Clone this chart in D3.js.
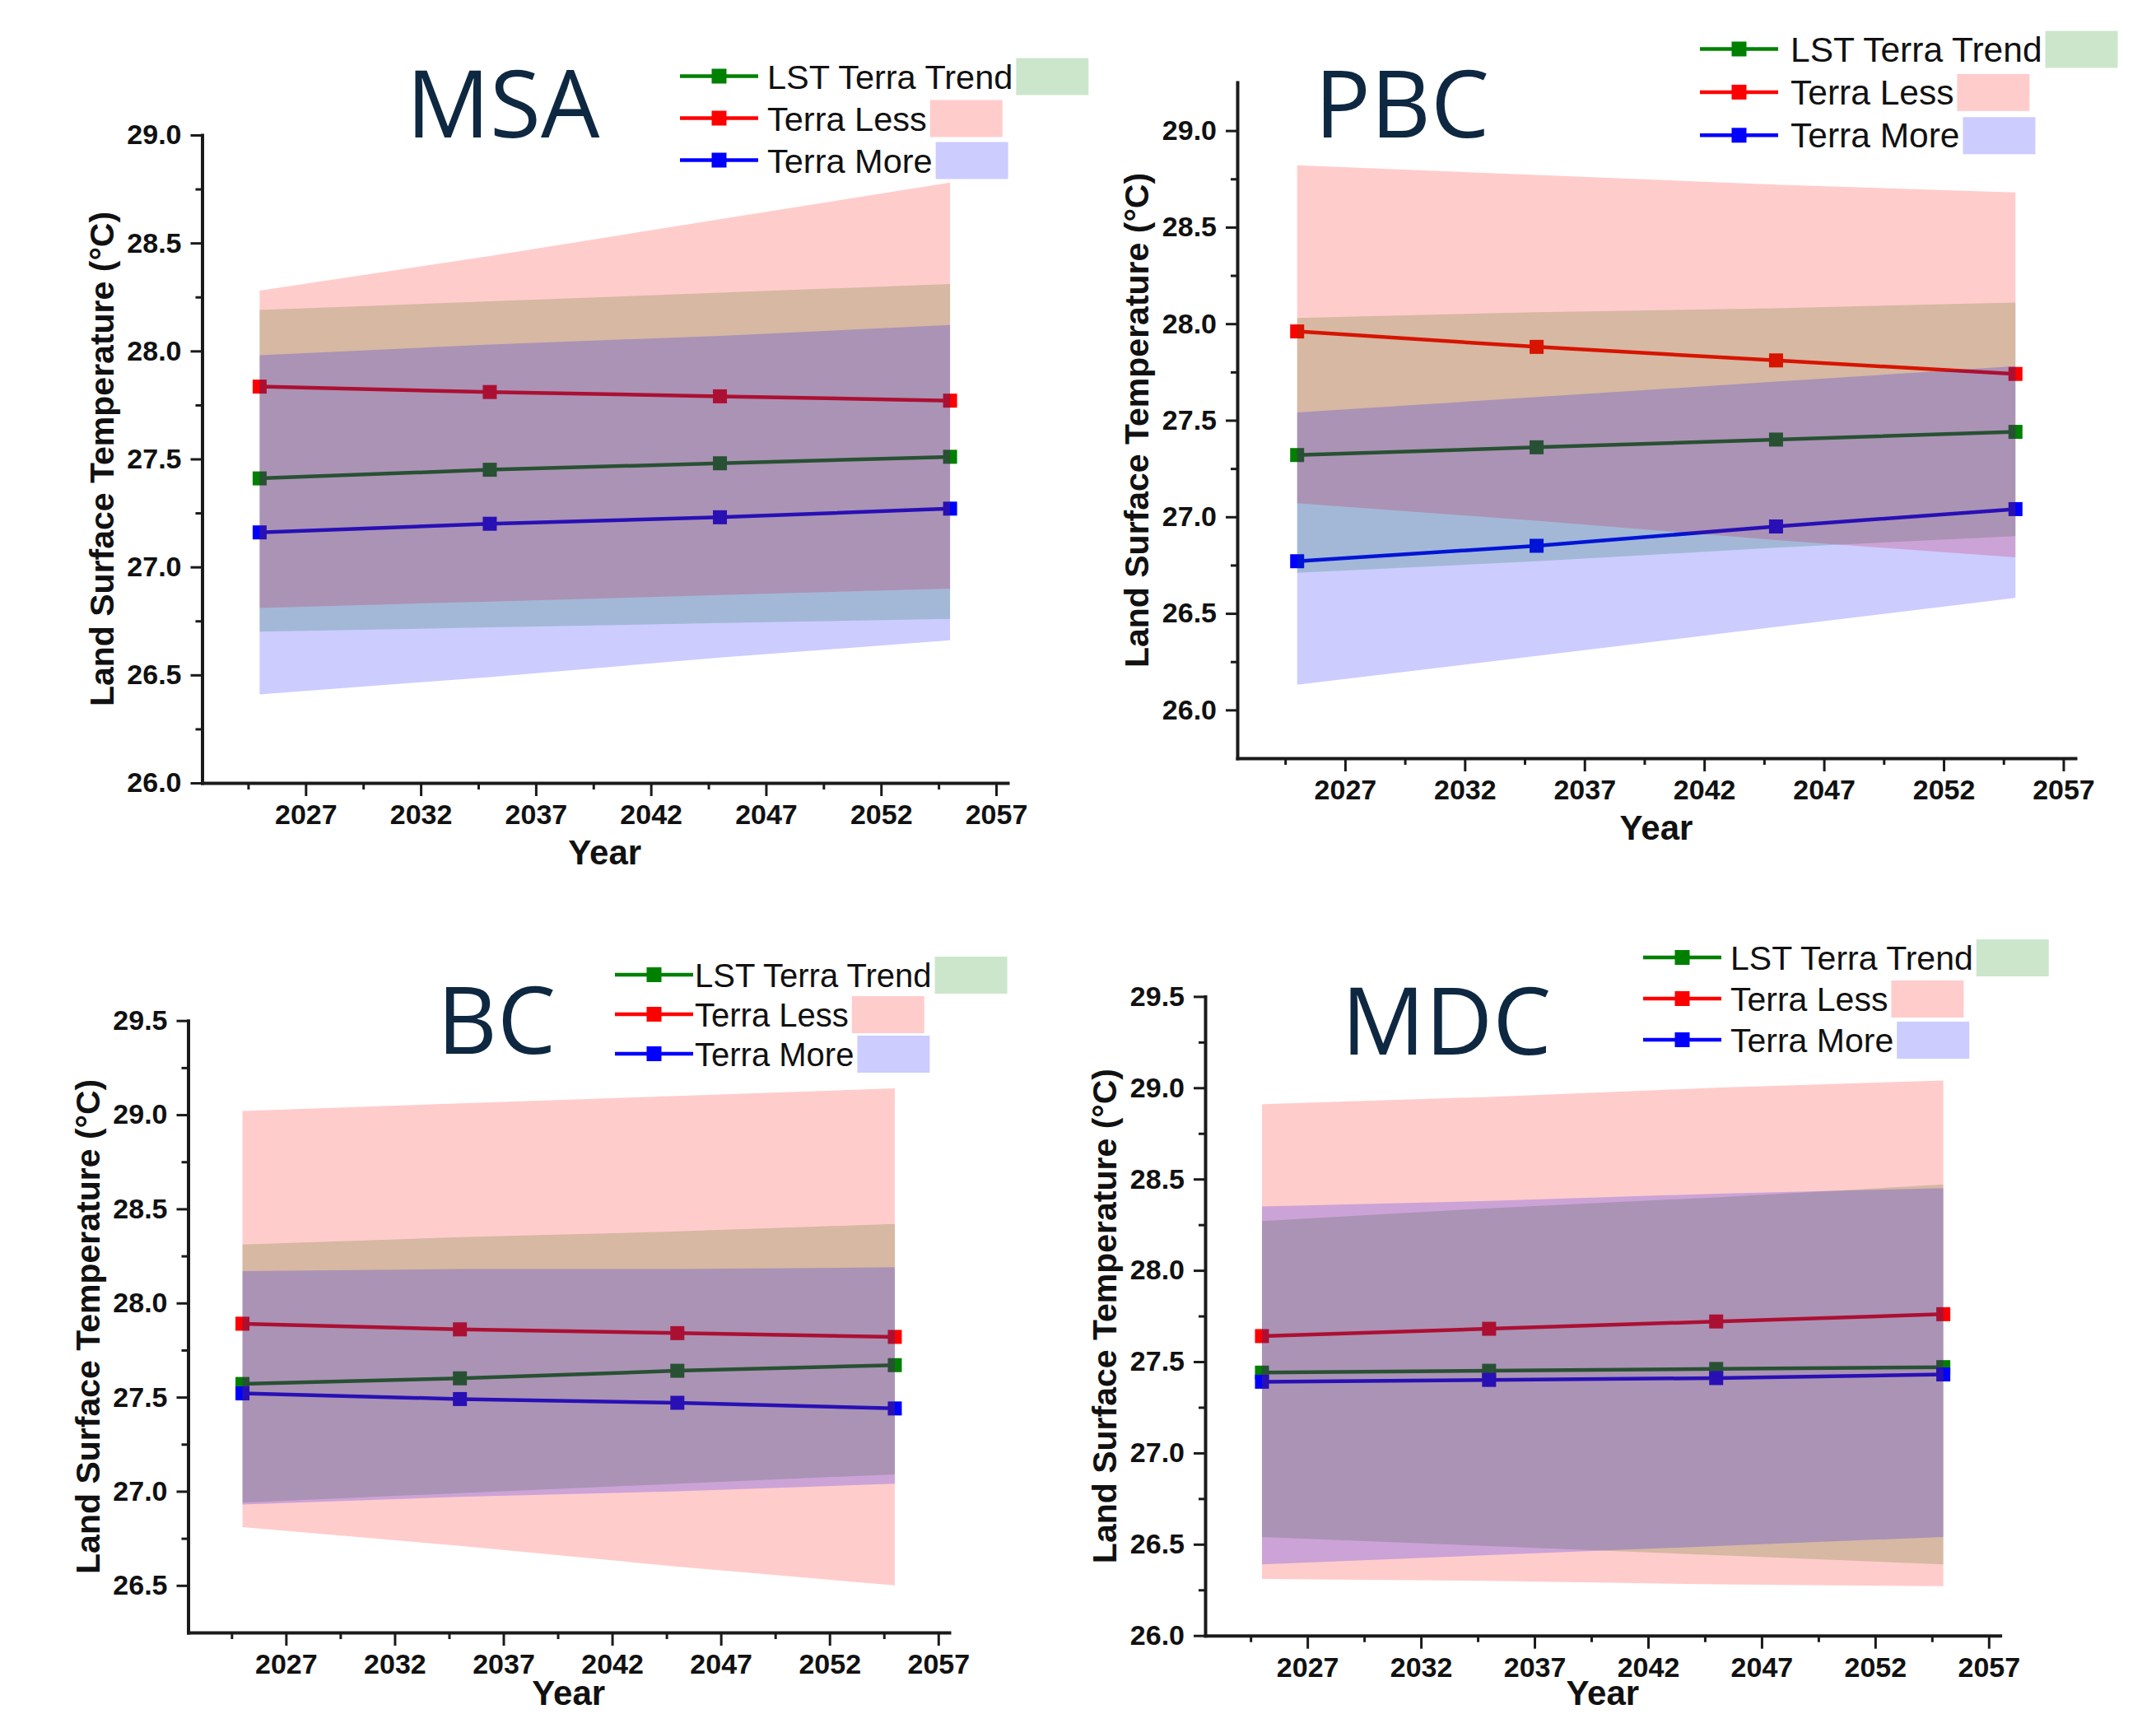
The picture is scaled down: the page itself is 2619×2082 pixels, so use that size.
<!DOCTYPE html>
<html>
<head>
<meta charset="utf-8">
<script src="https://cdn.jsdelivr.net/npm/d3@7"></script>
<style>
  body { margin: 0; background: #fff; }
  svg { display: block; }
</style>
</head>
<body>
<svg id="chart"></svg>
<script>
// ---- data ----
const years = [2025, 2035, 2045, 2055];
const seriesNames = ["LST Terra Trend", "Terra Less", "Terra More"];
const yearTicks = [2027, 2032, 2037, 2042, 2047, 2052, 2057];

// MSA
const msaTrend = [27.41, 27.45, 27.48, 27.51];
const msaLess = [27.835, 27.81, 27.79, 27.77];
const msaMore = [27.16, 27.20, 27.23, 27.27];
const msaTrendLow = [26.70, 26.72, 26.74, 26.76];
const msaTrendHigh = [28.19, 28.23, 28.27, 28.31];
const msaLessLow = [26.81, 26.84, 26.87, 26.90];
const msaLessHigh = [28.28, 28.44, 28.61, 28.78];
const msaMoreLow = [26.41, 26.49, 26.58, 26.66];
const msaMoreHigh = [27.98, 28.03, 28.07, 28.12];
const msaYTicks = [26.0, 26.5, 27.0, 27.5, 28.0, 28.5, 29.0];

// PBC
const pbcTrend = [27.32, 27.36, 27.40, 27.44];
const pbcLess = [27.96, 27.88, 27.81, 27.74];
const pbcMore = [26.77, 26.85, 26.95, 27.04];
const pbcTrendLow = [26.71, 26.77, 26.84, 26.90];
const pbcTrendHigh = [28.03, 28.06, 28.08, 28.11];
const pbcLessLow = [27.07, 26.98, 26.88, 26.79];
const pbcLessHigh = [28.82, 28.77, 28.72, 28.68];
const pbcMoreLow = [26.13, 26.28, 26.43, 26.58];
const pbcMoreHigh = [27.54, 27.62, 27.70, 27.78];
const pbcYTicks = [26.0, 26.5, 27.0, 27.5, 28.0, 28.5, 29.0];

// BC
const bcTrend = [27.57, 27.60, 27.64, 27.67];
const bcLess = [27.89, 27.86, 27.84, 27.82];
const bcMore = [27.52, 27.49, 27.47, 27.44];
const bcTrendLow = [26.94, 26.99, 27.04, 27.09];
const bcTrendHigh = [28.31, 28.35, 28.38, 28.42];
const bcLessLow = [26.81, 26.71, 26.60, 26.50];
const bcLessHigh = [29.02, 29.06, 29.10, 29.14];
const bcMoreLow = [26.93, 26.97, 27.00, 27.04];
const bcMoreHigh = [28.17, 28.18, 28.18, 28.19];
const bcYTicks = [26.5, 27.0, 27.5, 28.0, 28.5, 29.0, 29.5];

// MDC
const mdcTrend = [27.44, 27.45, 27.46, 27.47];
const mdcLess = [27.64, 27.68, 27.72, 27.76];
const mdcMore = [27.39, 27.40, 27.41, 27.43];
const mdcTrendLow = [26.54, 26.49, 26.44, 26.39];
const mdcTrendHigh = [28.27, 28.34, 28.40, 28.47];
const mdcLessLow = [26.31, 26.30, 26.28, 26.27];
const mdcLessHigh = [28.91, 28.95, 29.00, 29.04];
const mdcMoreLow = [26.39, 26.44, 26.49, 26.54];
const mdcMoreHigh = [28.35, 28.38, 28.42, 28.45];
const mdcYTicks = [26.0, 26.5, 27.0, 27.5, 28.0, 28.5, 29.0, 29.5];

// ---- layout ----
const W = 2619, H = 2082;
const colors = ["#008000", "#ff0000", "#0000ff"];
const tickFont = "'Liberation Sans', Arial, sans-serif";

const panels = [
  { name: "MSA", lines: [msaTrend, msaLess, msaMore],
    bands: [[msaTrendLow, msaTrendHigh], [msaLessLow, msaLessHigh], [msaMoreLow, msaMoreHigh]],
    yTicks: msaYTicks, yDomain: [26, 29],
    box: { left: 245.5, right: 1224, top: 164, bottom: 951 },
    title: { x: 611, y: 167 }, legend: { lineX: 826, textX: 932, y: 92.5, step: 51, size: 41.5 } },
  { name: "PBC", lines: [pbcTrend, pbcLess, pbcMore],
    bands: [[pbcTrendLow, pbcTrendHigh], [pbcLessLow, pbcLessHigh], [pbcMoreLow, pbcMoreHigh]],
    yTicks: pbcYTicks, yDomain: [25.75, 29.25],
    box: { left: 1503, right: 2521, top: 100, bottom: 921 },
    title: { x: 1703, y: 167 }, legend: { lineX: 2065, textX: 2175, y: 59.5, step: 52.4, size: 42.5 } },
  { name: "BC", lines: [bcTrend, bcLess, bcMore],
    bands: [[bcTrendLow, bcTrendHigh], [bcLessLow, bcLessHigh], [bcMoreLow, bcMoreHigh]],
    yTicks: bcYTicks, yDomain: [26.25, 29.5],
    box: { left: 228.5, right: 1153, top: 1239.7, bottom: 1983 },
    title: { x: 603, y: 1280 }, legend: { lineX: 747, textX: 844, y: 1184, step: 48, size: 40 } },
  { name: "MDC", lines: [mdcTrend, mdcLess, mdcMore],
    bands: [[mdcTrendLow, mdcTrendHigh], [mdcLessLow, mdcLessHigh], [mdcMoreLow, mdcMoreHigh]],
    yTicks: mdcYTicks, yDomain: [26, 29.5],
    box: { left: 1464, right: 2429.6, top: 1210.4, bottom: 1986.7 },
    title: { x: 1757, y: 1281 }, legend: { lineX: 1996, textX: 2102, y: 1163, step: 50, size: 41 } }
];

const svg = d3.select("#chart").attr("width", W).attr("height", H);
svg.append("rect").attr("width", W).attr("height", H).attr("fill", "#fff");

function drawPanel(p) {
  const g = svg.append("g");
  const x = d3.scaleLinear().domain([2022.5, 2057.5]).range([p.box.left, p.box.right]);
  const y = d3.scaleLinear().domain(p.yDomain).range([p.box.bottom, p.box.top]);

  // lines and markers sit under the translucent bands
  p.lines.forEach((vals, i) => {
    const pts = years.map((yr, k) => [yr, vals[k]]);
    g.append("path")
      .attr("d", d3.line().x(d => x(d[0])).y(d => y(d[1]))(pts))
      .attr("fill", "none")
      .attr("stroke", colors[i])
      .attr("stroke-width", 4.5);
    g.selectAll(null).data(pts).enter().append("rect")
      .attr("x", d => x(d[0]) - 8.5)
      .attr("y", d => y(d[1]) - 8.5)
      .attr("width", 17).attr("height", 17)
      .attr("fill", colors[i]);
  });

  p.bands.forEach((b, i) => {
    const pts = years.map((yr, k) => [yr, b[0][k], b[1][k]]);
    g.append("path")
      .attr("d", d3.area().x(d => x(d[0])).y0(d => y(d[1])).y1(d => y(d[2]))(pts))
      .attr("fill", colors[i])
      .attr("fill-opacity", 0.2);
  });

  // axes
  const yMinor = d3.pairs(p.yTicks).map(([a, b]) => (a + b) / 2);
  const xMinor = yearTicks.map(t => t - 2.5);

  g.append("g").attr("transform", `translate(${p.box.left},0)`)
    .call(d3.axisLeft(y).tickValues(p.yTicks).tickFormat(d3.format(".1f"))
      .tickSize(14).tickSizeOuter(0).tickPadding(11));
  g.append("g").attr("transform", `translate(${p.box.left},0)`)
    .call(d3.axisLeft(y).tickValues(yMinor).tickFormat("").tickSize(8).tickSizeOuter(0))
    .select(".domain").remove();

  g.append("g").attr("transform", `translate(0,${p.box.bottom})`)
    .call(d3.axisBottom(x).tickValues(yearTicks).tickFormat(d3.format("d"))
      .tickSize(16).tickSizeOuter(0).tickPadding(10));
  g.append("g").attr("transform", `translate(0,${p.box.bottom})`)
    .call(d3.axisBottom(x).tickValues(xMinor).tickFormat("").tickSize(8).tickSizeOuter(0))
    .select(".domain").remove();

  g.selectAll(".domain").attr("stroke", "#1a1a1a").attr("stroke-width", 4).attr("stroke-linecap", "square");
  g.selectAll(".tick line").attr("stroke", "#1a1a1a").attr("stroke-width", 3);
  g.selectAll(".tick text")
    .attr("font-family", tickFont).attr("font-size", 34).attr("font-weight", "bold")
    .attr("fill", "#111");

  // axis titles
  const midY = (p.box.top + p.box.bottom) / 2;
  g.append("text")
    .attr("transform", "rotate(-90)")
    .attr("x", -midY).attr("y", p.box.left - 108)
    .attr("text-anchor", "middle")
    .attr("font-family", tickFont).attr("font-size", 41).attr("font-weight", "bold")
    .attr("fill", "#111")
    .text("Land Surface Temperature (°C)");
  g.append("text")
    .attr("x", (p.box.left + p.box.right) / 2)
    .attr("y", Math.min(p.box.bottom + 99, H - 11))
    .attr("text-anchor", "middle")
    .attr("font-family", tickFont).attr("font-size", 42).attr("font-weight", "bold")
    .attr("fill", "#111")
    .text("Year");

  // panel title
  g.append("text")
    .attr("x", p.title.x).attr("y", p.title.y)
    .attr("text-anchor", "middle")
    .attr("font-family", "'Open Sans', 'Noto Sans', sans-serif")
    .attr("font-size", 113)
    .attr("fill", "#0e2841")
    .text(p.name);

  // legend
  const L = p.legend;
  seriesNames.forEach((name, i) => {
    const ry = L.y + i * L.step;
    g.append("line")
      .attr("x1", L.lineX).attr("x2", L.lineX + 95)
      .attr("y1", ry).attr("y2", ry)
      .attr("stroke", colors[i]).attr("stroke-width", 4.5);
    g.append("rect")
      .attr("x", L.lineX + 47.5 - 9).attr("y", ry - 9)
      .attr("width", 18).attr("height", 18)
      .attr("fill", colors[i]);
    const t = g.append("text")
      .attr("x", L.textX).attr("y", ry + 15)
      .attr("font-family", tickFont).attr("font-size", L.size)
      .attr("fill", "#111")
      .text(name);
    const tw = t.node().getComputedTextLength();
    g.append("rect")
      .attr("x", L.textX + tw + 4).attr("y", ry - 22)
      .attr("width", 88).attr("height", 45)
      .attr("fill", colors[i]).attr("fill-opacity", 0.2);
  });
}

panels.forEach(drawPanel);
</script>
</body>
</html>
